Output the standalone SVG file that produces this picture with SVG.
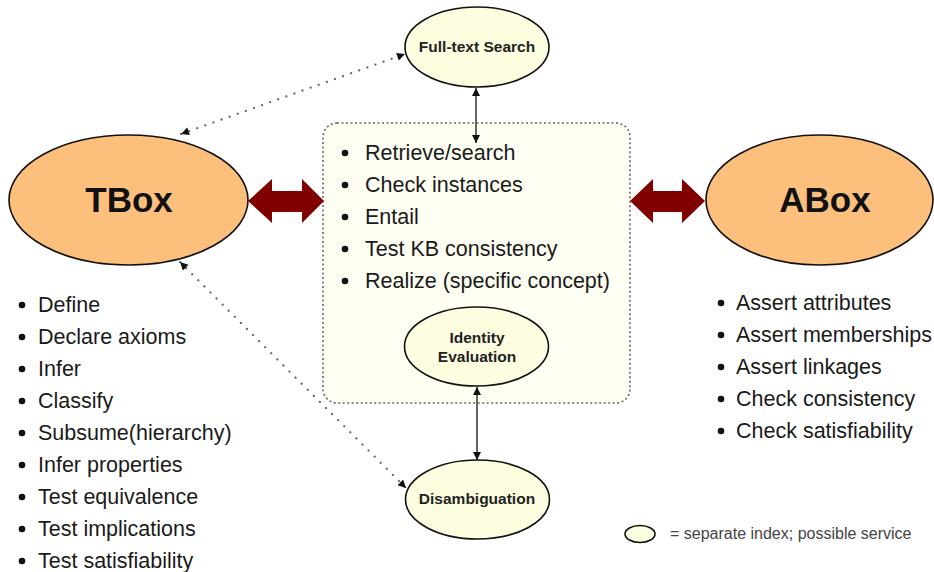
<svg xmlns="http://www.w3.org/2000/svg" width="934" height="572" viewBox="0 0 934 572">
<style>
.big{fill:#fcbf7c;stroke:#111;stroke-width:1.6}
.small{fill:#fdfde0;stroke:#111;stroke-width:1.6}
.bigt{font-family:"Liberation Sans",Arial,sans-serif;font-weight:bold;font-size:35px;fill:#111;text-anchor:middle}
.smt{font-family:"Liberation Sans",Arial,sans-serif;font-weight:bold;font-size:15.5px;fill:#222;text-anchor:middle}
.li{font-family:"Liberation Sans",Arial,sans-serif;font-size:21.5px;fill:#1a1a1a}
.dot{fill:#111}
.dotted{fill:none;stroke:#666;stroke-width:2.2;stroke-dasharray:0.1 8.5;stroke-linecap:round}
.solid{fill:none;stroke:#666;stroke-width:2}
.red{fill:#800000}
</style>
<defs>
<marker id="ah" viewBox="0 0 10 10" refX="10" refY="5" markerWidth="9" markerHeight="8" markerUnits="userSpaceOnUse" orient="auto-start-reverse">
<path d="M0,0 L10,5 L0,10 z" fill="#111"/>
</marker>
</defs>
<rect width="934" height="572" fill="#fff"/>

<g id="services-box">
<rect x="323" y="123" width="307" height="280" rx="14" fill="#fefef3" stroke="#666" stroke-width="1.6" stroke-dasharray="2 2.5"/>
<g class="dot">
<circle cx="345" cy="153" r="3.3"/><circle cx="345" cy="185" r="3.3"/><circle cx="345" cy="217" r="3.3"/><circle cx="345" cy="249" r="3.3"/><circle cx="345" cy="281" r="3.3"/>
</g>
<text class="li" x="365" y="160">Retrieve/search</text>
<text class="li" x="365" y="192">Check instances</text>
<text class="li" x="365" y="224">Entail</text>
<text class="li" x="365" y="256">Test KB consistency</text>
<text class="li" x="365" y="288">Realize (specific concept)</text>
</g>

<g id="connectors">
<line class="dotted" x1="181" y1="134" x2="405" y2="54" marker-start="url(#ah)" marker-end="url(#ah)"/>
<line class="dotted" x1="180" y1="262" x2="406" y2="488" marker-start="url(#ah)" marker-end="url(#ah)"/>
<line class="solid" x1="476" y1="88" x2="476" y2="143" marker-start="url(#ah)" marker-end="url(#ah)"/>
<line class="solid" x1="477" y1="387" x2="477" y2="460" marker-start="url(#ah)" marker-end="url(#ah)"/>
<polygon class="red" points="248,201 272,179 272,191 302,191 302,179 324,201 302,223 302,212 272,212 272,223"/>
<polygon class="red" points="630,201 653,179 653,191 682,191 682,179 705,201 682,223 682,212 653,212 653,223"/>
</g>

<g id="tbox">
<ellipse class="big" cx="128.5" cy="200" rx="119.5" ry="65"/>
<text class="bigt" x="129" y="212">TBox</text>
</g>

<g id="abox">
<ellipse class="big" cx="819.5" cy="200" rx="113.5" ry="65"/>
<text class="bigt" x="825" y="212">ABox</text>
</g>

<g id="fulltext">
<ellipse class="small" cx="477" cy="47" rx="72" ry="40"/>
<text class="smt" x="477" y="52">Full-text Search</text>
</g>

<g id="identity">
<ellipse class="small" cx="476.5" cy="346.5" rx="72" ry="39.5"/>
<text class="smt" x="477" y="343">Identity</text>
<text class="smt" x="477" y="362">Evaluation</text>
</g>

<g id="disambiguation">
<ellipse class="small" cx="477.5" cy="499.5" rx="72" ry="39.5"/>
<text class="smt" x="477" y="504">Disambiguation</text>
</g>

<g id="tbox-list">
<g class="dot">
<circle cx="22" cy="305" r="3.3"/><circle cx="22" cy="337" r="3.3"/><circle cx="22" cy="369" r="3.3"/><circle cx="22" cy="401" r="3.3"/><circle cx="22" cy="433" r="3.3"/><circle cx="22" cy="465" r="3.3"/><circle cx="22" cy="497" r="3.3"/><circle cx="22" cy="529" r="3.3"/><circle cx="22" cy="561" r="3.3"/>
</g>
<text class="li" x="38" y="312">Define</text>
<text class="li" x="38" y="344">Declare axioms</text>
<text class="li" x="38" y="376">Infer</text>
<text class="li" x="38" y="408">Classify</text>
<text class="li" x="38" y="440">Subsume(hierarchy)</text>
<text class="li" x="38" y="472">Infer properties</text>
<text class="li" x="38" y="504">Test equivalence</text>
<text class="li" x="38" y="536">Test implications</text>
<text class="li" x="38" y="568">Test satisfiability</text>
</g>

<g id="abox-list">
<g class="dot">
<circle cx="721" cy="303" r="3.3"/><circle cx="721" cy="335" r="3.3"/><circle cx="721" cy="367" r="3.3"/><circle cx="721" cy="399" r="3.3"/><circle cx="721" cy="431" r="3.3"/>
</g>
<text class="li" x="736" y="310">Assert attributes</text>
<text class="li" x="736" y="342">Assert memberships</text>
<text class="li" x="736" y="374">Assert linkages</text>
<text class="li" x="736" y="406">Check consistency</text>
<text class="li" x="736" y="438">Check satisfiability</text>
</g>

<g id="legend">
<ellipse class="small" cx="640" cy="534" rx="15" ry="8.5"/>
<text x="670" y="539" font-family="'Liberation Sans',Arial,sans-serif" font-size="16" fill="#444">= separate index; possible service</text>
</g>
</svg>
